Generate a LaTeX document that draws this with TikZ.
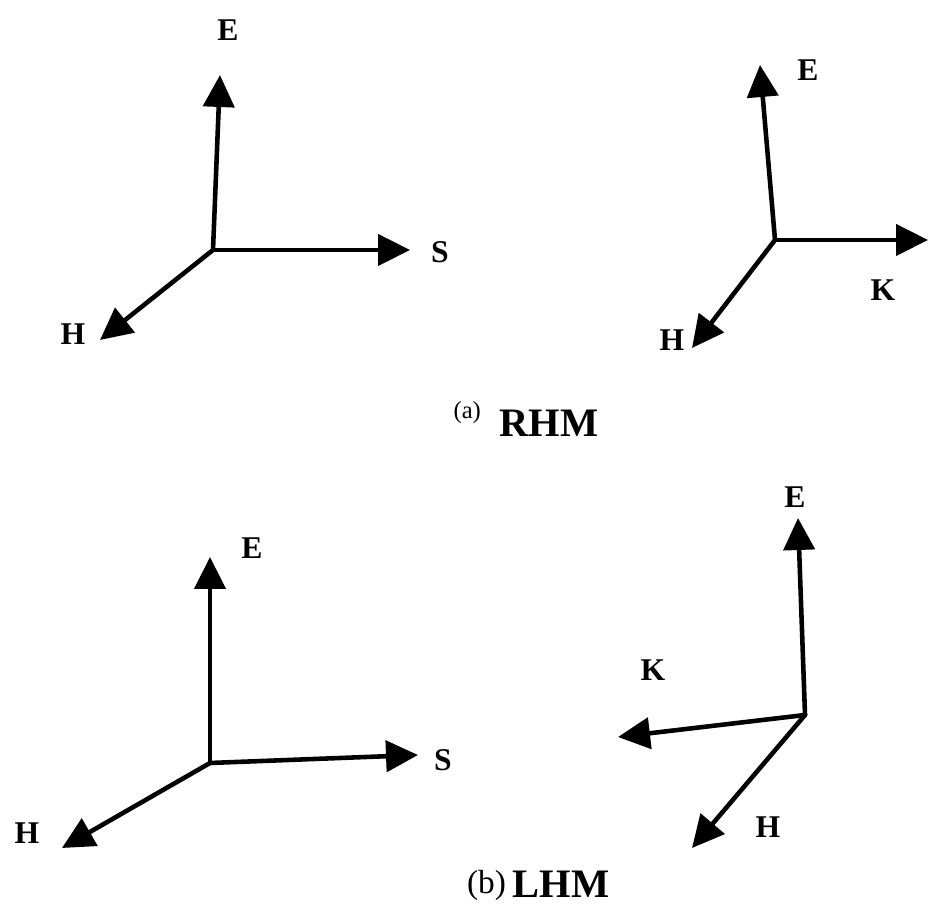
\documentclass[tikz,border=0pt]{standalone}
\usepackage{fontspec}
\setmainfont{Liberation Serif}
\usepackage{tikz}
\usetikzlibrary{arrows.meta,positioning}

\begin{document}
\begin{tikzpicture}[>={Triangle[length=0.64cm,width=0.62cm]},line cap=round,
  vec/.style={->,line width=2.6pt},
  lab/.style={font=\fontsize{18}{20}\selectfont\bfseries,inner sep=0pt},
  captext/.style={font=\fontsize{23}{26}\selectfont\bfseries,inner sep=0pt},
  tag/.style={inner sep=0pt}]
\useasboundingbox (0,0) rectangle (18.6,18.14);
% (a) RHM, left
\coordinate (o1) at (4.26,13.14);
\coordinate (e1) at (4.40,16.64);
\coordinate (s1) at (8.20,13.14);
\coordinate (h1) at (2.00,11.34);
\draw[vec] (o1) -- (e1);
\draw[vec] (o1) -- (s1);
\draw[vec] (o1) -- (h1);
\node[lab] (E1) at (4.56,17.54) {E};
\node[lab] (S1) at (8.80,13.10) {S};
\node[lab] (H1) at (1.46,11.46) {H};
% (a) RHM, right
\coordinate (o2) at (15.50,13.34);
\coordinate (e2) at (15.20,16.84);
\coordinate (k2) at (18.56,13.34);
\coordinate (h2) at (13.84,11.18);
\draw[vec] (o2) -- (e2);
\draw[vec] (o2) -- (k2);
\draw[vec] (o2) -- (h2);
\node[lab] (E2) at (16.16,16.74) {E};
\node[lab] (K2) at (17.66,12.34) {K};
\node[lab] (H2) at (13.44,11.34) {H};
% (b) LHM, left
\coordinate (o3) at (4.20,2.88);
\coordinate (e3) at (4.20,7.00);
\coordinate (s3) at (8.36,3.04);
\coordinate (h3) at (1.24,1.18);
\draw[vec] (o3) -- (e3);
\draw[vec] (o3) -- (s3);
\draw[vec] (o3) -- (h3);
\node[lab] (E3) at (5.04,7.18) {E};
\node[lab] (S3) at (8.86,2.94) {S};
\node[lab] (H3) at (0.54,1.48) {H};
% (b) LHM, right
\coordinate (o4) at (16.10,3.84);
\coordinate (e4) at (15.96,7.78);
\coordinate (k4) at (12.36,3.40);
\coordinate (h4) at (13.84,1.18);
\draw[vec] (o4) -- (e4);
\draw[vec] (o4) -- (k4);
\draw[vec] (o4) -- (h4);
\node[lab] (E4) at (15.90,8.20) {E};
\node[lab] (K4) at (13.06,4.74) {K};
\node[lab] (H4) at (15.36,1.60) {H};
% captions
\node[captext] (rhm) at (10.98,9.68) {RHM};
\node[tag,font=\fontsize{14}{16}\selectfont,left=0.36 of rhm,yshift=0.2cm] (ta) {(a)};
\node[captext] (lhm) at (11.22,0.46) {LHM};
\node[tag,font=\fontsize{19}{22}\selectfont,left=0.12 of lhm,yshift=-0.02cm] (tb) {(b)};
\end{tikzpicture}
\end{document}
